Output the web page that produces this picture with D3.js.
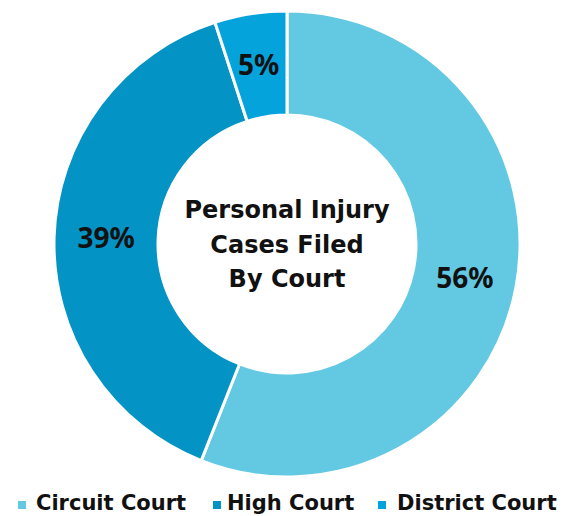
<!DOCTYPE html>
<html>
<head>
<meta charset="utf-8">
<script src="https://cdn.jsdelivr.net/npm/d3@7"></script>
<style>
  html, body { margin: 0; padding: 0; background: #fff; }
  svg { display: block; }
  text { font-family: "DejaVu Sans", "Noto Sans", sans-serif; font-weight: bold; fill: #111; }
  text.pct { font-family: "Noto Sans", "DejaVu Sans", sans-serif; }
</style>
</head>
<body>
<svg id="viz" width="565" height="516"></svg>
<script>
// donut: share of personal injury cases by court
const courts = ["Circuit Court", "High Court", "District Court"];
const shares = [56, 39, 5];
const colors = ["#63c9e3", "#0493c5", "#05a3dc"];
const centerLines = ["Personal Injury", "Cases Filed", "By Court"];

const svg = d3.select("#viz");
const cx = 287, cy = 244;
const outerR = 233, innerR = 129;

const pie = d3.pie().sort(null).value(d => d.v);
const arcs = pie(courts.map((c, i) => ({ name: c, v: shares[i], color: colors[i] })));

const arc = d3.arc().innerRadius(innerR).outerRadius(outerR);

const g = svg.append("g").attr("transform", `translate(${cx},${cy})`);

g.selectAll("path.slice")
  .data(arcs)
  .enter().append("path")
  .attr("class", "slice")
  .attr("d", arc)
  .attr("fill", d => d.data.color)
  .attr("stroke", "#fff")
  .attr("stroke-width", 3);

// percent labels at slice centroids
g.selectAll("text.pct")
  .data(arcs)
  .enter().append("text")
  .attr("class", "pct")
  .attr("x", d => arc.centroid(d)[0])
  .attr("y", d => arc.centroid(d)[1])
  .attr("text-anchor", "middle")
  .attr("dy", "0.36em")
  .attr("font-size", 28)
  .text(d => d.data.v + "%");

// title in the hole
g.selectAll("text.center")
  .data(centerLines)
  .enter().append("text")
  .attr("class", "center")
  .attr("text-anchor", "middle")
  .attr("x", 0)
  .attr("y", (d, i) => -26 + i * 34.5)
  .attr("font-size", 24)
  .text(d => d);

// legend along the bottom
const legendX = [18, 213, 378];
const legendTextX = [36, 227, 397];
const leg = svg.append("g").attr("class", "legend");
courts.forEach((c, i) => {
  leg.append("rect")
    .attr("x", legendX[i]).attr("y", 501)
    .attr("width", 8).attr("height", 8)
    .attr("fill", colors[i]);
  leg.append("text")
    .attr("x", legendTextX[i]).attr("y", 510)
    .attr("font-size", 21)
    .text(c);
});
</script>
</body>
</html>
